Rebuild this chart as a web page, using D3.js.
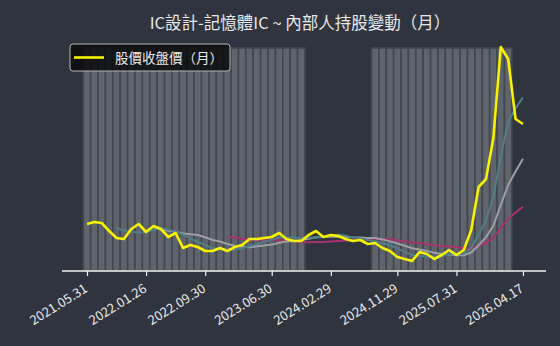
<!DOCTYPE html>
<html>
<head>
<meta charset="utf-8">
<script src="https://cdn.jsdelivr.net/npm/d3@7"></script>
<style>
  body { margin: 0; background: #2f343e; }
  text { font-family: 'Noto Sans CJK TC', 'Noto Sans', sans-serif; }
</style>
</head>
<body>
<div class="chart"></div>
<script>
// months on the x axis (one point per month)
const months = [
  '2021.05', '2021.06', '2021.07', '2021.08', '2021.09', '2021.10', '2021.11', '2021.12',
  '2022.01', '2022.02', '2022.03', '2022.04', '2022.05', '2022.06', '2022.07', '2022.08',
  '2022.09', '2022.10', '2022.11', '2022.12', '2023.01', '2023.02', '2023.03', '2023.04',
  '2023.05', '2023.06', '2023.07', '2023.08', '2023.09', '2023.10', '2023.11', '2023.12',
  '2024.01', '2024.02', '2024.03', '2024.04', '2024.05', '2024.06', '2024.07', '2024.08',
  '2024.09', '2024.10', '2024.11', '2024.12', '2025.01', '2025.02', '2025.03', '2025.04',
  '2025.05', '2025.06', '2025.07', '2025.08', '2025.09', '2025.10', '2025.11', '2025.12',
  '2026.01', '2026.02', '2026.03', '2026.04',
];

const tickMonths = ['2021.05', '2022.01', '2022.09', '2023.06', '2024.02', '2024.11', '2025.07', '2026.04'];
const tickLabels = ['2021.05.31', '2022.01.26', '2022.09.30', '2023.06.30', '2024.02.29', '2024.11.29', '2025.07.31', '2026.04.17'];

// monthly close
const closePrice = [
  47, 49, 48, 40, 33, 32, 42, 47, 39, 45, 42, 34, 38, 23, 26, 24, 20, 20, 23, 20,
  24, 26, 32, 32, 33, 34, 38, 32, 30, 30, 36, 40, 34, 36, 35, 32, 30, 31, 27, 28,
  23, 20, 14, 12, 10, 19, 17, 12, 16, 21, 16, 21, 41, 84, 92, 133, 224, 212, 152, 147,
];

// smoothed lines
const ma5 = [
  null, null, null, null, 43.4, 40.4, 39, 38.8, 38.6, 41, 43, 41.4, 39.6, 36.4, 32.6, 29, 26.2, 22.6, 22.6, 21.4,
  21.4, 22.6, 25, 26.8, 29.4, 31.4, 33.8, 33.8, 33.4, 32.8, 33.2, 33.6, 34, 35.2, 36.2, 35.4, 33.4, 32.8, 31, 29.6,
  27.8, 25.8, 22.4, 19.4, 15.8, 15, 14.4, 14, 14.8, 17, 16.4, 17.2, 23, 36.6, 50.8, 74.2, 114.8, 149, 162.6, 173.6,
];
const ma10 = [
  null, null, null, null, null, null, null, null, null, 42.2, 41.7, 40.2, 39.2, 37.5, 36.8, 36, 33.8, 31.1, 29.5, 27,
  25.2, 24.4, 23.8, 24.7, 25.4, 26.4, 28.2, 29.4, 30.1, 31.1, 32.3, 33.7, 33.9, 34.3, 34.5, 34.3, 33.5, 33.4, 33.1, 32.9,
  31.6, 29.6, 27.6, 25.2, 22.7, 21.4, 20.1, 18.2, 17.1, 16.4, 15.7, 15.8, 18.5, 25.7, 33.9, 45.3, 66, 86, 99.6, 112.2,
];
const ma20 = [
  null, null, null, null, null, null, null, null, null, null, null, null, null, null, null, null, null, null, null, 34.6,
  33.5, 32.3, 31.5, 31.1, 31.1, 31.2, 31, 30.3, 29.8, 29.1, 28.8, 29.1, 28.9, 29.5, 30, 30.4, 30.9, 31.4, 31.6, 32,
  32, 31.7, 30.8, 29.8, 28.6, 27.9, 26.8, 25.8, 25.1, 24.7, 23.7, 22.7, 23.1, 25.5, 28.3, 33.4, 43.1, 52.1, 58.4, 64.3,
];

// months with an insider holding change on record (1 = yes)
const holdingChange = [
  1, 1, 1, 1, 1, 1, 1, 1, 1, 1, 1, 1, 1, 1, 1, 1, 1, 1, 1, 1,
  1, 1, 1, 1, 1, 1, 1, 1, 1, 1, 0, 0, 0, 0, 0, 0, 0, 0, 0, 1,
  1, 1, 1, 1, 1, 1, 1, 1, 1, 1, 1, 1, 1, 1, 1, 1, 1, 1, 0, 0,
];

const width = 560;
const height = 346;
const plot = { left: 62, right: 546, top: 48, bottom: 271 };

const svg = d3
  .select('.chart')
  .append('svg')
  .attr('width', width)
  .attr('height', height);

svg.append('rect').attr('width', width).attr('height', height).attr('fill', '#2f343e');

// 1. scales
const xScale = d3
  .scalePoint()
  .domain(months)
  .range([plot.left, plot.right])
  .padding(3.25)
  .align(0.52);
const step = xScale.step();

const yPrice = d3.scaleLinear().domain([0, 225]).range([plot.bottom, 46]);
const yBar = d3.scaleLinear().domain([0, 1]).range([plot.bottom, plot.top]);

// 2. bars for insider changes
svg
  .append('g')
  .selectAll('rect')
  .data(months.map((m, i) => ({ m, v: holdingChange[i] })).filter((d) => d.v > 0))
  .join('rect')
  .attr('x', (d) => xScale(d.m) - step / 2)
  .attr('width', step)
  .attr('y', (d) => yBar(d.v))
  .attr('height', (d) => yBar(0) - yBar(d.v))
  .attr('fill', '#5f646c')
  .attr('stroke', '#42474f')
  .attr('stroke-width', 1.6);

// 3. lines
const line = d3
  .line()
  .defined((d) => d.v != null)
  .x((d) => xScale(d.m))
  .y((d) => yPrice(d.v));

const series = [
  { values: ma20, color: '#a8326e', w: 2 },
  { values: ma10, color: '#9d9fa5', w: 2 },
  { values: ma5, color: '#4f7f86', w: 2 },
  { values: closePrice, color: '#f7f200', w: 2.6 },
];

series.forEach((s) => {
  svg
    .append('path')
    .datum(months.map((m, i) => ({ m, v: s.values[i] })))
    .attr('d', line)
    .attr('fill', 'none')
    .attr('stroke', s.color)
    .attr('stroke-width', s.w)
    .attr('stroke-linejoin', 'round');
});

// 4. x axis
const xAxis = d3
  .axisBottom(xScale)
  .tickValues(tickMonths)
  .tickSize(5)
  .tickFormat((m) => tickLabels[tickMonths.indexOf(m)]);

const xAxisGroup = svg
  .append('g')
  .attr('transform', 'translate(0,' + plot.bottom + ')')
  .call(xAxis);

xAxisGroup.select('.domain').remove();
xAxisGroup
  .append('line')
  .attr('x1', plot.left)
  .attr('x2', plot.right)
  .attr('stroke', '#f2f2f2')
  .attr('stroke-width', 1.5);
xAxisGroup.selectAll('.tick line').attr('stroke', '#f2f2f2').attr('stroke-width', 1.2);
xAxisGroup
  .selectAll('.tick text')
  .attr('x', 0)
  .attr('y', 0)
  .attr('dy', 0)
  .attr('transform', 'translate(1,20) rotate(-32)')
  .attr('text-anchor', 'end')
  .attr('fill', '#e6e6e6')
  .style('font-size', '13px')
  .style('font-family', "'Noto Sans CJK TC', sans-serif");

// 5. title
svg
  .append('text')
  .attr('x', 300)
  .attr('y', 29)
  .attr('text-anchor', 'middle')
  .attr('fill', '#e8e8e8')
  .style('font-size', '16.5px')
  .text('IC設計-記憶體IC ~ 內部人持股變動（月）');

// 6. legend
const legend = svg.append('g').attr('transform', 'translate(70,44)');
legend
  .append('rect')
  .attr('width', 160)
  .attr('height', 27)
  .attr('rx', 3)
  .attr('fill', 'rgba(10,10,12,0.85)')
  .attr('stroke', '#b5b5b5')
  .attr('stroke-width', 1);
legend
  .append('line')
  .attr('x1', 4)
  .attr('x2', 34)
  .attr('y1', 13.5)
  .attr('y2', 13.5)
  .attr('stroke', '#f7f200')
  .attr('stroke-width', 2.6);
legend
  .append('text')
  .attr('x', 45)
  .attr('y', 18.5)
  .attr('fill', '#e8e8e8')
  .style('font-size', '13.5px')
  .text('股價收盤價（月）');
</script>
</body>
</html>
